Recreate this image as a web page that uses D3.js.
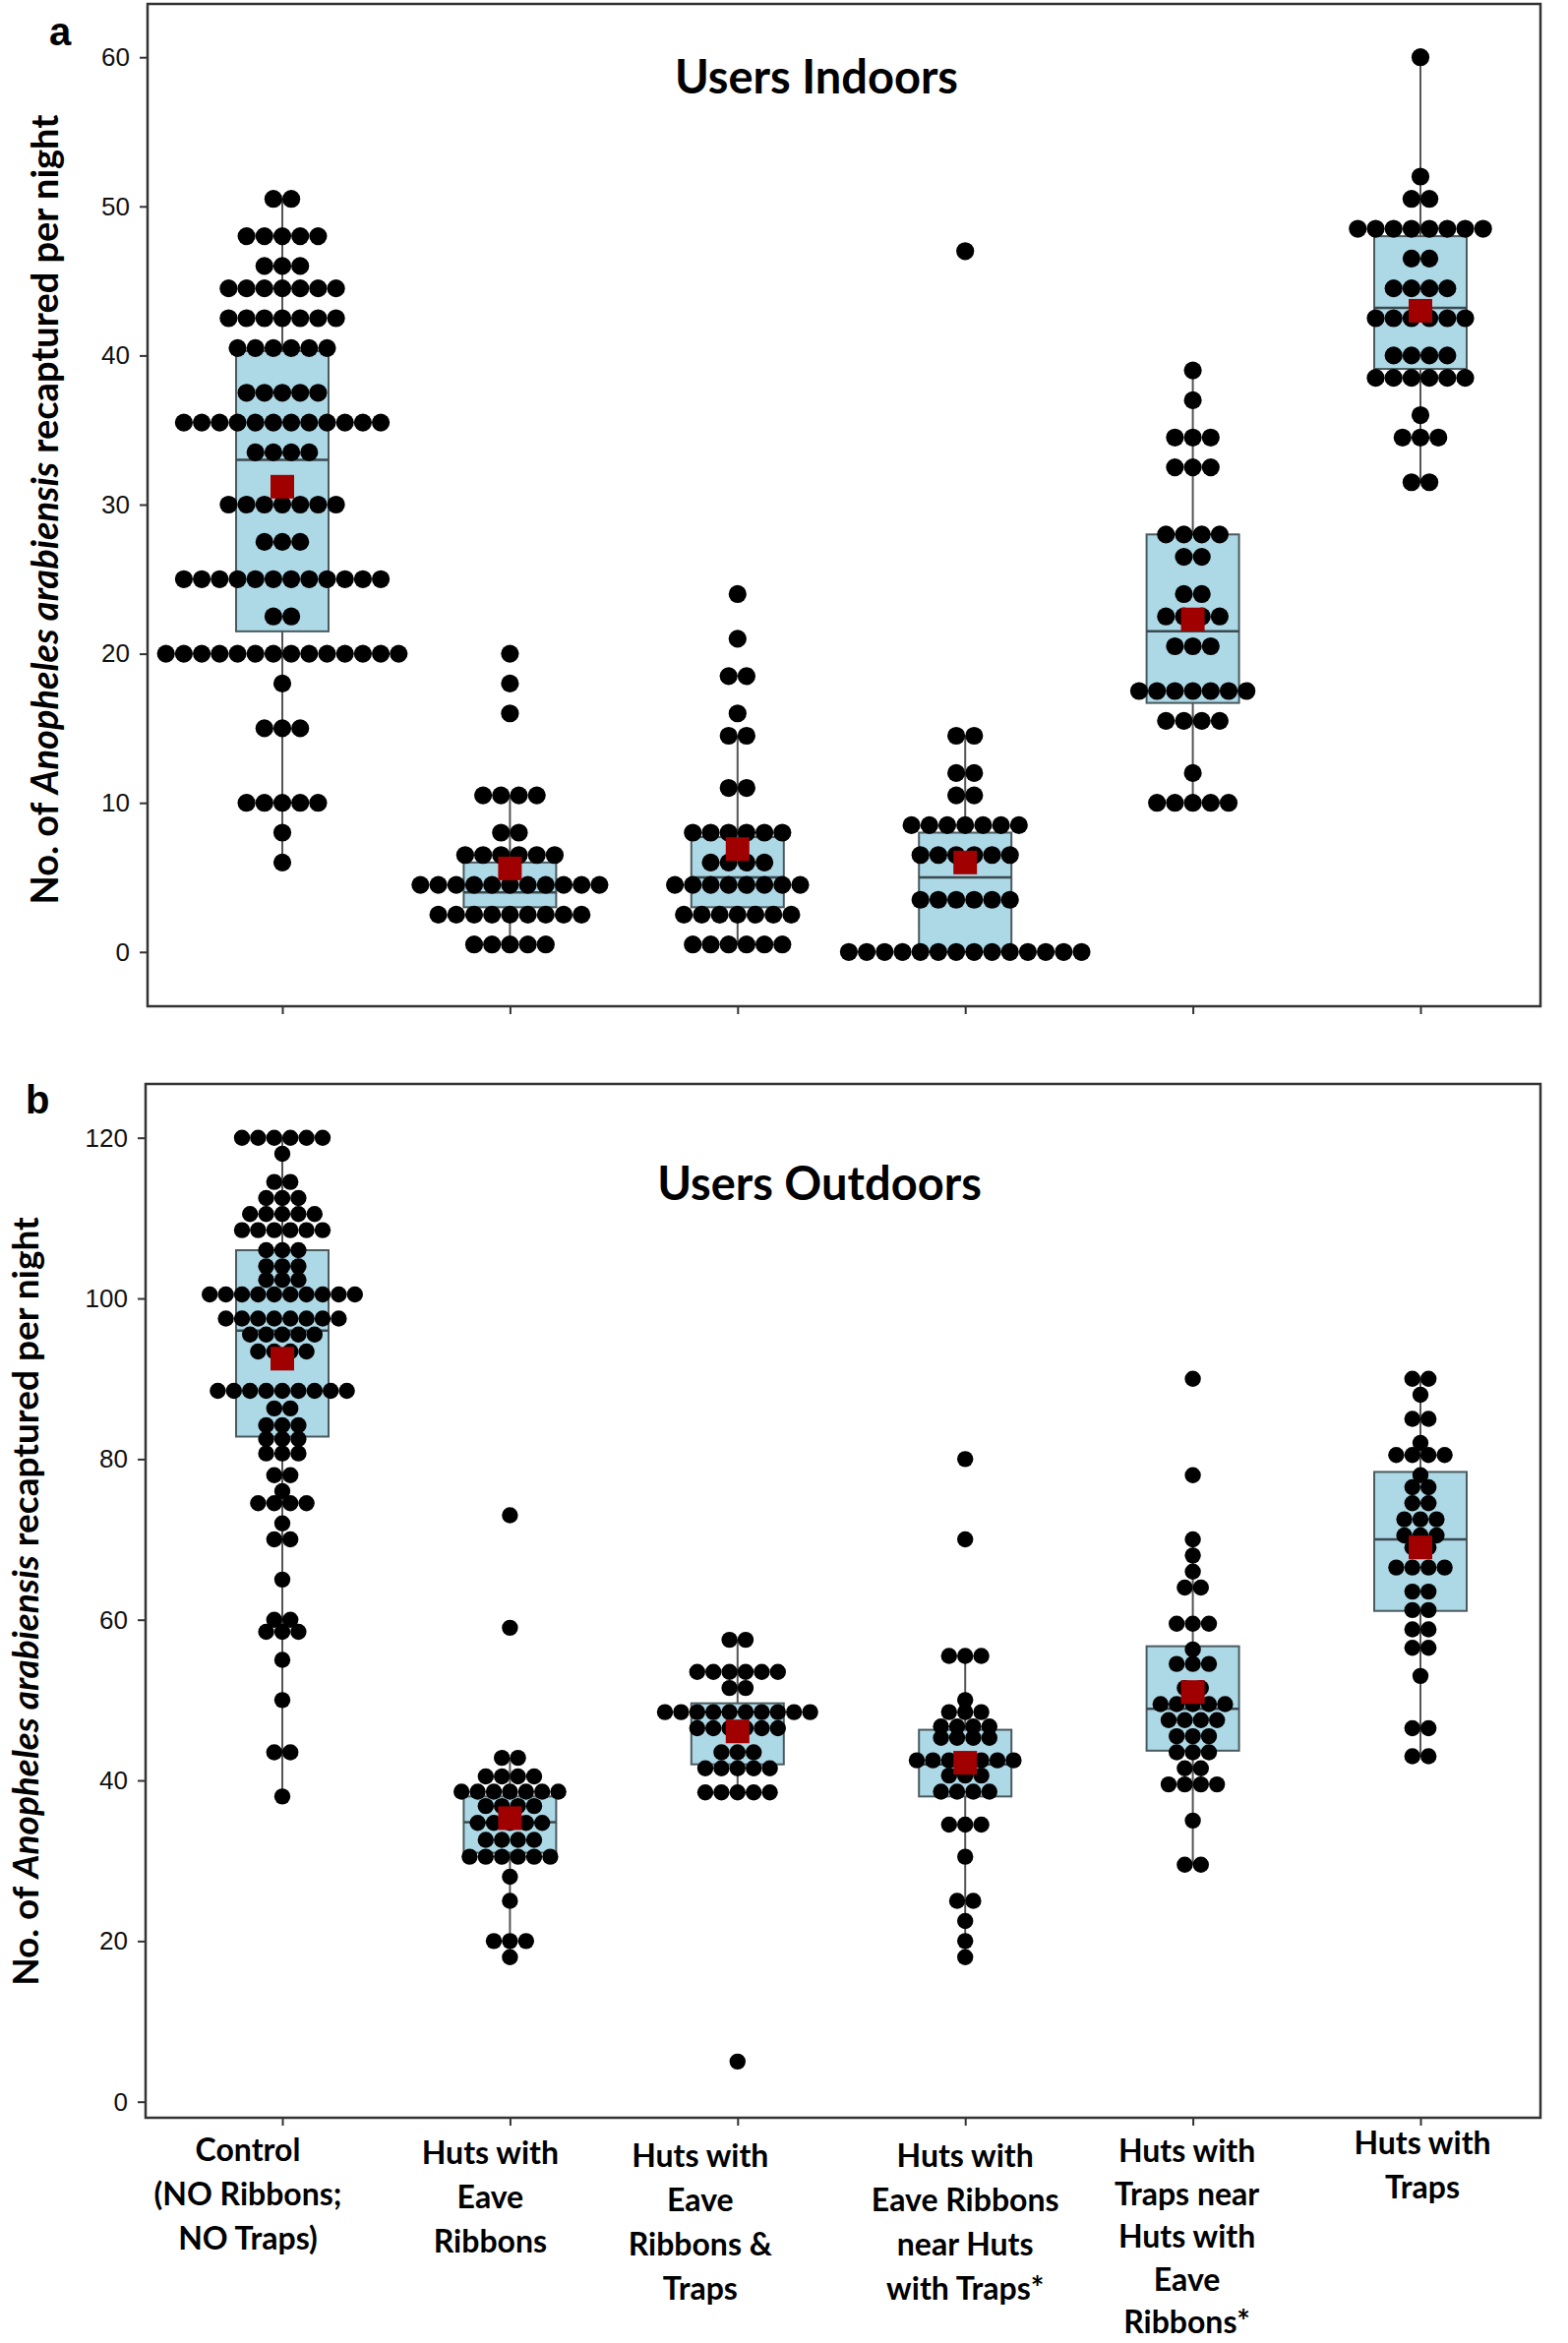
<!DOCTYPE html>
<html><head><meta charset="utf-8">
<script src="https://cdn.jsdelivr.net/npm/d3@7"></script>
<style>body{margin:0;background:#fff}</style>
</head><body>
<svg id="chart" width="1594" height="2382" xmlns="http://www.w3.org/2000/svg"></svg>
<script>
// ---------- DATA ----------
const categories = ["Control", "Eave", "EaveTraps", "EaveNearTraps", "TrapsNearEave", "Traps"];
const categoryLabels = [
  ["Control", "(NO Ribbons;", "NO Traps)"],
  ["Huts with", "Eave", "Ribbons"],
  ["Huts with", "Eave", "Ribbons &", "Traps"],
  ["Huts with", "Eave Ribbons", "near Huts", "with Traps*"],
  ["Huts with", "Traps near", "Huts with", "Eave", "Ribbons*"],
  ["Huts with", "Traps"]
];
const indoorTicks = [0, 10, 20, 30, 40, 50, 60];
const outdoorTicks = [0, 20, 40, 60, 80, 100, 120];

// dot rows: [value, number of dots]
const indoorControl = [[50.5,2],[48,5],[46,3],[44.5,7],[42.5,7],[40.5,6],[37.5,5],[35.5,12],[33.5,4],[30,7],[27.5,3],[25,12],[22.5,2],[20,14],[18,1],[15,3],[10,5],[8,1],[6,1]];
const indoorEave = [[20,1],[18,1],[16,1],[10.5,4],[8,2],[6.5,6],[4.5,11],[2.5,9],[0.5,5]];
const indoorEaveTraps = [[24,1],[21,1],[18.5,2],[16,1],[14.5,2],[11,2],[8,6],[6,4],[4.5,8],[2.5,7],[0.5,6]];
const indoorEaveNearTraps = [[47,1],[14.5,2],[12,2],[10.5,2],[8.5,7],[6.5,6],[3.5,6],[0,14]];
const indoorTrapsNearEave = [[39,1],[37,1],[34.5,3],[32.5,3],[28,4],[26.5,2],[24,2],[22.5,4],[20.5,3],[17.5,7],[15.5,4],[12,1],[10,5]];
const indoorTraps = [[60,1],[52,1],[50.5,2],[48.5,8],[46.5,2],[44.5,4],[42.5,6],[40,4],[38.5,6],[36,1],[34.5,3],[31.5,2]];

const indoorQ1     = [21.5, 3.0, 3.0, 0.0, 16.7, 39.1];
const indoorMedian = [33.0, 4.0, 5.0, 5.0, 21.5, 43.2];
const indoorQ3     = [40.3, 6.0, 7.7, 8.0, 28.0, 48.0];
const indoorLow    = [6.0, 0.5, 0.5, 0.0, 10.0, 31.5];
const indoorHigh   = [50.5, 10.5, 14.5, 14.5, 39.0, 60.0];
const indoorMean   = [31.2, 5.6, 6.9, 6.0, 22.3, 43.0];

const outdoorControl = [[120,6],[118,1],[114.5,2],[112.5,3],[110.5,5],[108.5,6],[106,3],[104,3],[102.3,3],[100.5,10],[97.5,8],[95.5,5],[93.4,4],[88.5,9],[86.3,2],[84.2,3],[82.5,3],[80.7,3],[78,2],[76,1],[74.5,4],[72,1],[70,2],[65,1],[60,2],[58.5,3],[55,1],[50,1],[43.5,2],[38,1]];
const outdoorEave = [[73,1],[59,1],[42.8,2],[40.5,4],[38.6,7],[36.8,4],[34.7,5],[32.6,4],[30.5,6],[28,1],[25,1],[20,3],[18,1]];
const outdoorEaveTraps = [[57.5,2],[53.5,6],[51.5,2],[48.5,10],[46.5,6],[43.5,3],[41.5,5],[38.5,5],[5,1]];
const outdoorEaveNearTraps = [[80,1],[70,1],[55.5,3],[50,1],[48.5,3],[46.7,4],[45.3,4],[42.5,7],[40.6,3],[38.6,4],[34.5,3],[30.5,1],[25,2],[22.5,1],[20,1],[18,1]];
const outdoorTrapsNearEave = [[90,1],[78,1],[70,1],[68,1],[66,1],[64,2],[59.5,3],[56.3,1],[54.5,3],[51.5,2],[49.5,5],[47.5,4],[45.5,3],[43.5,3],[41.5,2],[39.5,4],[35,1],[29.5,2]];
const outdoorTraps = [[90,2],[88,1],[85,2],[82,1],[80.5,4],[78,1],[76.5,2],[74.5,2],[72.5,3],[70.5,3],[69,2],[66.5,4],[63.5,2],[61.2,2],[58.8,2],[56.5,2],[53,1],[46.5,2],[43,2]];

const outdoorQ1     = [82.8, 31.0, 42.0, 38.0, 43.7, 61.1];
const outdoorMedian = [96.0, 34.8, 48.5, 42.0, 48.9, 70.0];
const outdoorQ3     = [106.0, 38.0, 49.6, 46.3, 56.7, 78.4];
const outdoorLow    = [38.0, 18.0, 38.5, 18.0, 29.5, 43.0];
const outdoorHigh   = [120.0, 42.8, 57.5, 55.5, 70.0, 90.0];
const outdoorMean   = [92.5, 35.3, 46.1, 42.2, 51.0, 69.0];

// ---------- DRAWING ----------
const svg = d3.select("#chart");
const x = d3.scalePoint().domain(categories).range([287, 1444]);
const labelShift = [-35, -20, -38, 0, -6, 2];
const labelTop = [2197, 2200, 2203, 2203, 2198, 2190];
const labelStep = [45, 45, 45, 45, 43.5, 45];

function drawPanel(o) {
  const g = svg.append("g");
  const y = d3.scaleLinear().domain(o.domain).range(o.yRange);
  const boxW = 94, meanS = 24;

  // y axis
  const ya = g.append("g").attr("transform", `translate(${o.left},0)`)
    .call(d3.axisLeft(y).tickValues(o.ticks).tickSize(8).tickPadding(10));
  ya.select(".domain").remove();
  ya.selectAll("line").attr("stroke", "#333").attr("stroke-width", 2);
  ya.selectAll("text").attr("font-family", "Liberation Sans, Arial, sans-serif")
    .attr("font-size", 26).attr("fill", "#111");

  // x axis ticks
  const xa = g.append("g").attr("transform", `translate(0,${o.bottom})`)
    .call(d3.axisBottom(x).tickSize(8).tickFormat(""));
  xa.select(".domain").remove();
  xa.selectAll("line").attr("stroke", "#333").attr("stroke-width", 2);

  // whiskers
  g.selectAll(".wh").data(categories).join("line")
    .attr("x1", d => x(d)).attr("x2", d => x(d))
    .attr("y1", (d, i) => y(o.low[i])).attr("y2", (d, i) => y(o.high[i]))
    .attr("stroke", "#555").attr("stroke-width", 2);

  // boxes
  g.selectAll(".box").data(categories).join("rect")
    .attr("x", d => x(d) - boxW / 2).attr("width", boxW)
    .attr("y", (d, i) => y(o.q3[i]))
    .attr("height", (d, i) => y(o.q1[i]) - y(o.q3[i]))
    .attr("fill", "#add8e6").attr("stroke", "#4a5b60").attr("stroke-width", 2);
  g.selectAll(".med").data(categories).join("line")
    .attr("x1", d => x(d) - boxW / 2).attr("x2", d => x(d) + boxW / 2)
    .attr("y1", (d, i) => y(o.median[i])).attr("y2", (d, i) => y(o.median[i]))
    .attr("stroke", "#3b4a4f").attr("stroke-width", 2.5);

  // dots
  const dots = [];
  o.rows.forEach((rows, gi) => {
    rows.forEach(([v, n]) => {
      for (let k = 0; k < n; k++) dots.push({ cat: categories[gi], v, off: k - (n - 1) / 2 });
    });
  });
  g.selectAll(".dot").data(dots).join("circle")
    .attr("cx", d => x(d.cat) + d.off * 2 * o.r)
    .attr("cy", d => y(d.v)).attr("r", o.r).attr("fill", "#000");

  // means
  g.selectAll(".mean").data(categories).join("rect")
    .attr("x", d => x(d) - meanS / 2).attr("width", meanS)
    .attr("y", (d, i) => y(o.mean[i]) - meanS / 2).attr("height", meanS)
    .attr("fill", "#a00000");

  // frame
  g.append("rect").attr("x", o.left).attr("y", o.top)
    .attr("width", o.right - o.left).attr("height", o.bottom - o.top)
    .attr("fill", "none").attr("stroke", "#333").attr("stroke-width", 2.5);

  // title
  g.append("text").attr("x", o.titleX).attr("y", o.titleY).attr("text-anchor", "middle")
    .attr("font-family", "Lato, sans-serif").attr("font-weight", "bold").attr("font-size", 47)
    .attr("fill", "#000").text(o.title);

  // panel letter
  g.append("text").attr("x", o.letterX).attr("y", o.letterY)
    .attr("font-family", "Liberation Sans, Arial, sans-serif").attr("font-weight", "bold")
    .attr("font-size", 40).attr("fill", "#000").text(o.letter);

  // y label
  const yl = g.append("text")
    .attr("transform", `translate(${o.ylabX},${o.ylabY}) rotate(-90)`)
    .attr("text-anchor", "middle").attr("font-family", "Lato, sans-serif")
    .attr("font-weight", "bold").attr("font-size", o.ylabSize).attr("fill", "#000");
  yl.append("tspan").text("No. of ");
  yl.append("tspan").attr("font-style", "italic").text("Anopheles arabiensis");
  yl.append("tspan").text(" recaptured per night");
  return y;
}

drawPanel({
  domain: [0, 60], yRange: [967.8, 58.2], ticks: indoorTicks,
  left: 150, right: 1566, top: 4, bottom: 1023, r: 9.1,
  rows: [indoorControl, indoorEave, indoorEaveTraps, indoorEaveNearTraps, indoorTrapsNearEave, indoorTraps],
  q1: indoorQ1, median: indoorMedian, q3: indoorQ3, low: indoorLow, high: indoorHigh, mean: indoorMean,
  title: "Users Indoors", titleX: 830, titleY: 95, letter: "a", letterX: 50, letterY: 46,
  ylabX: 59, ylabY: 518, ylabSize: 38
});

drawPanel({
  domain: [0, 120], yRange: [2136.7, 1156.7], ticks: outdoorTicks,
  left: 148, right: 1566, top: 1102, bottom: 2153, r: 8.2,
  rows: [outdoorControl, outdoorEave, outdoorEaveTraps, outdoorEaveNearTraps, outdoorTrapsNearEave, outdoorTraps],
  q1: outdoorQ1, median: outdoorMedian, q3: outdoorQ3, low: outdoorLow, high: outdoorHigh, mean: outdoorMean,
  title: "Users Outdoors", titleX: 833, titleY: 1220, letter: "b", letterX: 26, letterY: 1132,
  ylabX: 39, ylabY: 1628, ylabSize: 37
});

// category labels
const lab = svg.append("g").attr("font-family", "Lato, sans-serif").attr("font-weight", "bold")
  .attr("font-size", 32).attr("text-anchor", "middle").attr("fill", "#000");
categories.forEach((c, i) => {
  const t = lab.append("text").attr("x", x(c) + labelShift[i]).attr("y", labelTop[i]);
  categoryLabels[i].forEach((line, j) => {
    t.append("tspan").attr("x", x(c) + labelShift[i]).attr("y", labelTop[i] + j * labelStep[i]).text(line);
  });
});
</script>
</body></html>
